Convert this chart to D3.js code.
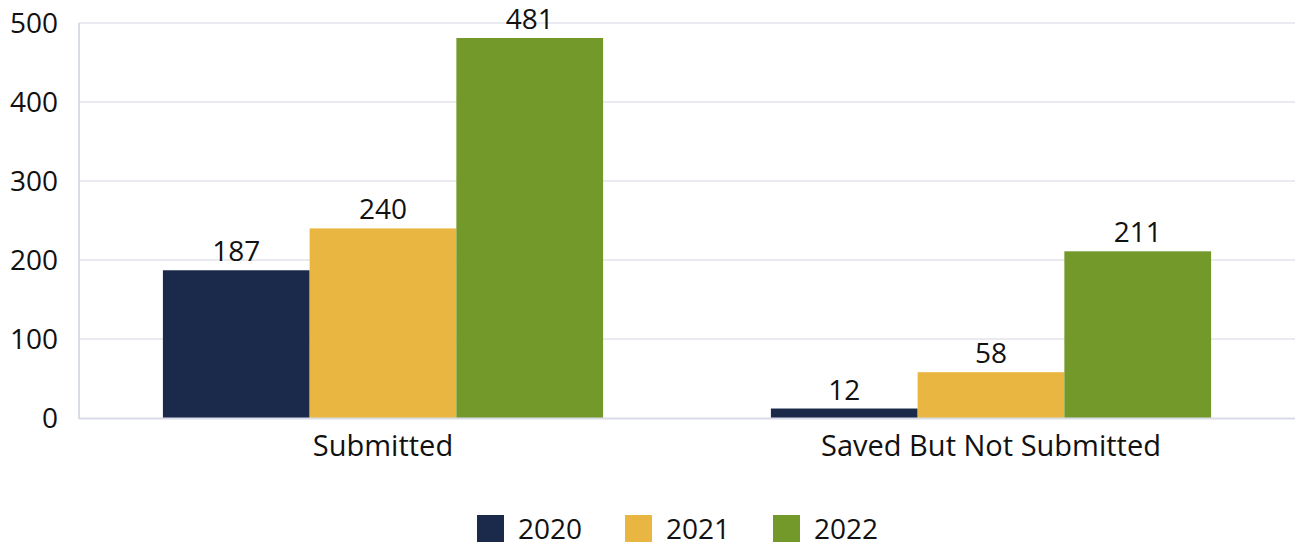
<!DOCTYPE html>
<html>
<head>
<meta charset="utf-8">
<script src="https://cdn.jsdelivr.net/npm/d3@7"></script>
<style>
  body { margin: 0; background: #fff; }
  text { font-family: "Open Sans", "Noto Sans", sans-serif; fill: #111; }
</style>
</head>
<body>
<div id="chart"></div>
<script>
// data
var categories = ["Submitted", "Saved But Not Submitted"];
var years = ["2020", "2021", "2022"];
var values2020 = [187, 12];
var values2021 = [240, 58];
var values2022 = [481, 211];
var yTicks = [0, 100, 200, 300, 400, 500];
var colors = ["#1b2a4a", "#e9b741", "#72992a"];

var seriesValues = [values2020, values2021, values2022];

var width = 1295, height = 546;
var margin = {top: 23, right: 0, bottom: 128, left: 79};

var svg = d3.select("#chart").append("svg")
    .attr("width", width)
    .attr("height", height);

var x0 = d3.scaleBand()
    .domain(categories)
    .range([margin.left, width - margin.right])
    .paddingInner(0.276)
    .paddingOuter(0.138);

var x1 = d3.scaleBand()
    .domain(years)
    .range([0, x0.bandwidth()]);

var y = d3.scaleLinear()
    .domain([0, 500])
    .range([height - margin.bottom, margin.top]);

// gridlines
svg.append("g")
  .selectAll("line")
  .data(yTicks.filter(function(d) { return d > 0; }))
  .enter().append("line")
    .attr("x1", margin.left)
    .attr("x2", width - margin.right)
    .attr("y1", function(d) { return y(d); })
    .attr("y2", function(d) { return y(d); })
    .attr("stroke", "#e2e5ec")
    .attr("stroke-width", 1.5);

// y tick labels
svg.append("g")
  .selectAll("text")
  .data(yTicks)
  .enter().append("text")
    .attr("x", 58)
    .attr("y", function(d) { return y(d) + 10; })
    .attr("text-anchor", "end")
    .attr("font-size", 28)
    .text(function(d) { return d; });

// bars
var groups = svg.append("g")
  .selectAll("g")
  .data(categories)
  .enter().append("g")
    .attr("transform", function(d) { return "translate(" + x0(d) + ",0)"; });

groups.selectAll("rect")
  .data(function(d, i) {
    return years.map(function(yr, j) { return {year: yr, value: seriesValues[j][i], color: colors[j]}; });
  })
  .enter().append("rect")
    .attr("x", function(d) { return x1(d.year); })
    .attr("y", function(d) { return y(d.value); })
    .attr("width", x1.bandwidth())
    .attr("height", function(d) { return y(0) - y(d.value); })
    .attr("fill", function(d) { return d.color; });

groups.selectAll("text")
  .data(function(d, i) {
    return years.map(function(yr, j) { return {year: yr, value: seriesValues[j][i]}; });
  })
  .enter().append("text")
    .attr("x", function(d) { return x1(d.year) + x1.bandwidth() / 2; })
    .attr("y", function(d) { return y(d.value) - 9; })
    .attr("text-anchor", "middle")
    .attr("font-size", 28)
    .text(function(d) { return d.value; });

// axis lines
svg.append("line")
    .attr("x1", margin.left).attr("x2", margin.left)
    .attr("y1", margin.top).attr("y2", y(0) + 1)
    .attr("stroke", "#d8dce5").attr("stroke-width", 2);
svg.append("line")
    .attr("x1", margin.left).attr("x2", width - margin.right)
    .attr("y1", y(0) + 0.5).attr("y2", y(0) + 0.5)
    .attr("stroke", "#d8dce5").attr("stroke-width", 2);

// category labels
svg.append("g")
  .selectAll("text")
  .data(categories)
  .enter().append("text")
    .attr("x", function(d) { return x0(d) + x0.bandwidth() / 2; })
    .attr("y", 456)
    .attr("text-anchor", "middle")
    .attr("font-size", 29)
    .text(function(d) { return d; });

// legend
var legend = svg.append("g")
  .selectAll("g")
  .data(years)
  .enter().append("g")
    .attr("transform", function(d, i) { return "translate(" + (477 + i * 148) + ",515)"; });

legend.append("rect")
    .attr("width", 27)
    .attr("height", 27)
    .attr("fill", function(d, i) { return colors[i]; });

legend.append("text")
    .attr("x", 41)
    .attr("y", 24)
    .attr("font-size", 28)
    .text(function(d) { return d; });
</script>
</body>
</html>
